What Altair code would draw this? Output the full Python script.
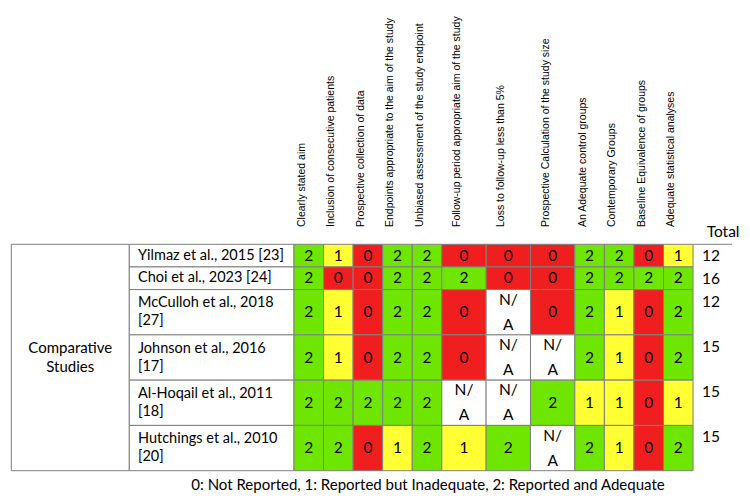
import altair as alt
import pandas as pd

# ---------------- data ----------------
criteria = [
    "Clearly stated aim",
    "Inclusion of consecutive patients",
    "Prospective collection of data",
    "Endpoints appropriate to the aim of the study",
    "Unbiased assessment of the study endpoint",
    "Follow-up period appropriate aim of the study",
    "Loss to follow-up less than 5%",
    "Prospective Calculation of the study size",
    "An Adequate control groups",
    "Contemporary Groups",
    "Baseline Equivalence of groups",
    "Adequate statistical analyses",
]
studies = [
    "Yilmaz et al., 2015 [23]",
    "Choi et al., 2023 [24]",
    "McCulloh et al., 2018\n[27]",
    "Johnson et al., 2016\n[17]",
    "Al-Hoqail et al., 2011\n[18]",
    "Hutchings et al., 2010\n[20]",
]
NA = "N/A"
scores = [
    [2, 1, 0, 2, 2, 0, 0, 0, 2, 2, 0, 1],
    [2, 0, 0, 2, 2, 2, 0, 0, 2, 2, 2, 2],
    [2, 1, 0, 2, 2, 0, NA, 0, 2, 1, 0, 2],
    [2, 1, 0, 2, 2, 0, NA, NA, 2, 1, 0, 2],
    [2, 2, 2, 2, 2, NA, NA, 2, 1, 1, 0, 1],
    [2, 2, 0, 1, 2, 1, 2, NA, 2, 1, 0, 2],
]
totals = [12, 16, 12, 15, 15, 15]
group_label = "Comparative\nStudies"
total_header = "Total"
legend_text = "0: Not Reported, 1: Reported but Inadequate, 2: Reported and Adequate"

score_keys = ["0", "1", "2", NA]
score_colors = ["#f01e1e", "#ffff33", "#6ee600", "#ffffff"]

# ---------------- layout (in column / row units) ----------------
col_units = [1, 1, 1, 1, 1, 1.5, 1.5, 1.5, 1, 1, 1, 1]
row_units = [1, 1, 2, 2, 2, 2]
KX, KY = 29.56, 22.64            # px per unit
W, H = 734, 485
X0 = -(294 - 8) / KX
Y0 = -(244.3 - 8) / KY
XS = alt.Scale(domain=[X0, X0 + W / KX], nice=False, zero=False)
YS = alt.Scale(domain=[Y0, Y0 + H / KY], nice=False, zero=False, reverse=True)

GROUP_LEFT = (11.3 - 294) / KX
NAME_LEFT = (129.3 - 294) / KX
NAME_TEXT_X = (138 - 294) / KX
TOTAL_X = (702 - 294) / KX
TOTAL_RIGHT = (732 - 294) / KX
HEADER_BOTTOM = (227 - 244.3) / KY
LABEL_SHIFT = 4 / KX

LH_CELL, LH_NAME, LH_GROUP = 25, 18, 19


def first_line_y(center, text, lh):
    n = text.count("\n") + 1
    return center - (n - 1) * lh / 2 / KY


col_left = [sum(col_units[:j]) for j in range(len(col_units))]
col_right = [col_left[j] + col_units[j] for j in range(len(col_units))]
row_top = [sum(row_units[:i]) for i in range(len(row_units))]
row_bot = [row_top[i] + row_units[i] for i in range(len(row_units))]
grid_right = sum(col_units)
grid_bottom = sum(row_units)

cells = []
for i, row in enumerate(scores):
    for j, v in enumerate(row):
        key = NA if v == NA else str(v)
        label = "N/\nA" if key == NA else key
        yc = (row_top[i] + row_bot[i]) / 2
        cells.append(dict(
            x=col_left[j], x2=col_right[j], y=row_top[i], y2=row_bot[i],
            xc=(col_left[j] + col_right[j]) / 2, yc=first_line_y(yc, label, LH_CELL),
            key=key, label=label,
        ))
df_cells = pd.DataFrame(cells)

df_names = pd.DataFrame(dict(
    x=[NAME_LEFT] * len(studies), x2=[0] * len(studies),
    y=row_top, y2=row_bot,
    xt=[NAME_TEXT_X] * len(studies),
    yc=[first_line_y((a + b) / 2, s, LH_NAME) for a, b, s in zip(row_top, row_bot, studies)],
    name=studies,
))
df_group = pd.DataFrame(dict(
    x=[GROUP_LEFT], x2=[NAME_LEFT], y=[0], y2=[grid_bottom],
    xc=[(GROUP_LEFT + NAME_LEFT) / 2], yc=[first_line_y(grid_bottom / 2, group_label, LH_GROUP)],
    label=[group_label],
))
df_totals = pd.DataFrame(dict(
    x=[TOTAL_X] * len(totals), y=[t + 12 / KY for t in row_top], total=[str(t) for t in totals],
))
df_headers = pd.DataFrame(dict(
    x=[(a + b) / 2 - LABEL_SHIFT for a, b in zip(col_left, col_right)],
    y=[HEADER_BOTTOM] * len(criteria), label=criteria,
))
df_total_head = pd.DataFrame(dict(x=[(706.7 - 294) / KX], y=[(231.7 - 244.3) / KY], label=[total_header]))
df_rule = pd.DataFrame(dict(x=[grid_right], x2=[TOTAL_RIGHT], y=[0]))
df_legend = pd.DataFrame(dict(x=[(428 - 294) / KX], y=[(489.5 - 244.3) / KY], label=[legend_text]))

GRAY = "#7f7f7f"
FONT = "Lato"


def X(f):
    return alt.X(f, type="quantitative", scale=XS, axis=None)


def Y(f):
    return alt.Y(f, type="quantitative", scale=YS, axis=None)


group_rect = alt.Chart(df_group).mark_rect(fill="white", stroke=GRAY, strokeWidth=1).encode(
    x=X("x"), x2="x2", y=Y("y"), y2="y2")
group_text = alt.Chart(df_group).mark_text(font=FONT, fontSize=15, lineBreak="\n", lineHeight=LH_GROUP,
                                           align="center", baseline="middle", color="black").encode(
    x=X("xc"), y=Y("yc"), text="label:N")
name_rect = alt.Chart(df_names).mark_rect(fill="white", stroke=GRAY, strokeWidth=1).encode(
    x=X("x"), x2="x2", y=Y("y"), y2="y2")
name_text = alt.Chart(df_names).mark_text(font=FONT, fontSize=14.5, lineBreak="\n", lineHeight=LH_NAME,
                                          align="left", baseline="middle", color="black").encode(
    x=X("xt"), y=Y("yc"), text="name:N")
cell_rect = alt.Chart(df_cells).mark_rect(stroke=GRAY, strokeWidth=1).encode(
    x=X("x"), x2="x2", y=Y("y"), y2="y2",
    color=alt.Color("key:N", scale=alt.Scale(domain=score_keys, range=score_colors), legend=None))
cell_text = alt.Chart(df_cells).mark_text(font=FONT, fontSize=15.5, lineBreak="\n", lineHeight=LH_CELL,
                                          align="center", baseline="middle", color="black").encode(
    x=X("xc"), y=Y("yc"), text="label:N")
total_text = alt.Chart(df_totals).mark_text(font=FONT, fontSize=15.5, align="left", baseline="middle",
                                            color="black").encode(
    x=X("x"), y=Y("y"), text="total:N")
header_text = alt.Chart(df_headers).mark_text(font="Liberation Sans", fontSize=10.5, angle=270,
                                              align="left", baseline="alphabetic", color="black").encode(
    x=X("x"), y=Y("y"), text="label:N")
total_head = alt.Chart(df_total_head).mark_text(font=FONT, fontSize=15.5, align="left", baseline="middle",
                                                color="black").encode(
    x=X("x"), y=Y("y"), text="label:N")
top_rule = alt.Chart(df_rule).mark_rule(color=GRAY, strokeWidth=1).encode(
    x=X("x"), x2="x2", y=Y("y"))
legend = alt.Chart(df_legend).mark_text(font=FONT, fontSize=15, align="center", baseline="alphabetic",
                                        color="black").encode(
    x=X("x"), y=Y("y"), text="label:N")

chart = alt.layer(
    group_rect, name_rect, cell_rect, group_text, name_text, cell_text,
    total_text, header_text, total_head, top_rule, legend,
).properties(
    width=W, height=H, padding=0, autosize=alt.AutoSizeParams(type="none"), background="white"
).configure_view(stroke=None)

chart.save("out.html", embed_options={"renderer": "svg", "actions": False})
